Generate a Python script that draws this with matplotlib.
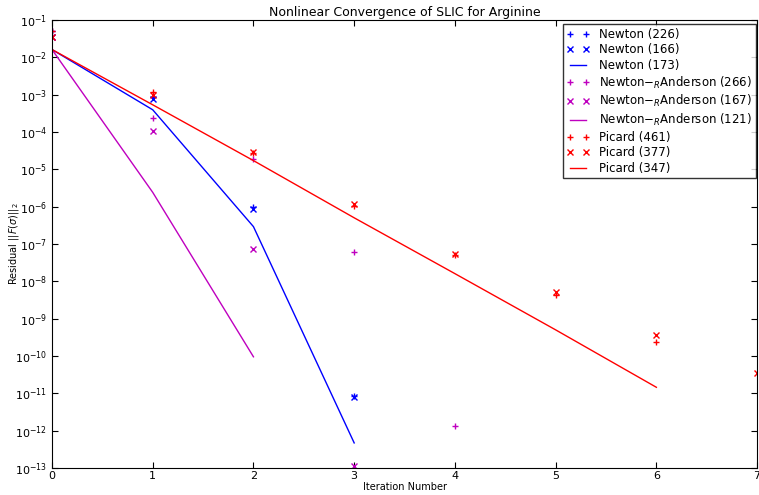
import matplotlib
matplotlib.use('Agg')
import matplotlib.pyplot as plt
from matplotlib.ticker import LogLocator, NullLocator, MultipleLocator

plt.rcParams['xtick.direction'] = 'in'
plt.rcParams['ytick.direction'] = 'in'
plt.rcParams['xtick.top'] = True
plt.rcParams['ytick.right'] = True
plt.rcParams['font.size'] = 8

# residual histories per method (iteration -> ||F||_2)
newton_plus = [5.0e-2, 8.5e-4, 1.0e-6, 8.5e-12]
newton_x = [3.5e-2, 7.6e-4, 8.8e-7, 8.0e-12]
newton_line = [1.6e-2, 3.9e-4, 2.9e-7, 4.7e-13]

nra_plus = [5.0e-2, 2.3e-4, 1.9e-5, 6.0e-8, 1.3e-12]
nra_x = [3.5e-2, 1.05e-4, 7.5e-8, 1.1e-13]
nra_line = [1.6e-2, 2.4e-6, 9.5e-11]

picard_plus = [5.0e-2, 1.2e-3, 2.7e-5, 1.05e-6, 5.2e-8, 4.4e-9, 2.3e-10]
picard_x = [3.5e-2, 1.0e-3, 2.9e-5, 1.15e-6, 5.5e-8, 5.3e-9, 3.6e-10, 3.4e-11]
picard_line = [1.6e-2, 5.3e-4, 1.7e-5, 5.0e-7, 1.6e-8, 5.0e-10, 1.45e-11]

labels = ['Newton (226)', 'Newton (166)', 'Newton (173)',
          r'Newton$-_R$Anderson (266)', r'Newton$-_R$Anderson (167)',
          r'Newton$-_R$Anderson (121)',
          'Picard (461)', 'Picard (377)', 'Picard (347)']

fig = plt.figure(figsize=(7.59, 4.95), dpi=100)
ax = fig.add_axes([0.0685, 0.0545, 0.929, 0.9055])

series = [
    (newton_plus, 'b', '+', '', labels[0]),
    (newton_x, 'b', 'x', '', labels[1]),
    (newton_line, 'b', '', '-', labels[2]),
    (nra_plus, 'm', '+', '', labels[3]),
    (nra_x, 'm', 'x', '', labels[4]),
    (nra_line, 'm', '', '-', labels[5]),
    (picard_plus, 'r', '+', '', labels[6]),
    (picard_x, 'r', 'x', '', labels[7]),
    (picard_line, 'r', '', '-', labels[8]),
]

for vals, c, m, ls, lab in series:
    ax.semilogy(range(len(vals)), vals, color=c, marker=m, linestyle=ls if ls else 'None',
                markersize=5, markeredgewidth=1, linewidth=1, label=lab)

ax.set_xlim(0, 7)
ax.set_ylim(1e-13, 1e-1)
ax.xaxis.set_major_locator(MultipleLocator(1))
ax.yaxis.set_major_locator(LogLocator(base=10, numticks=20))
ax.yaxis.set_minor_locator(NullLocator())
ax.tick_params(length=4, labelsize=8)
ax.tick_params(axis='x', pad=2)

ax.set_title('Nonlinear Convergence of SLIC for Arginine', fontsize=9, pad=3)
ax.set_xlabel('Iteration Number', fontsize=7, labelpad=1)
ax.set_ylabel(r'Residual $||F(\sigma)||_2$', fontsize=7, labelpad=-4)

leg = ax.legend(loc='upper right', bbox_to_anchor=(0.998, 0.99), fontsize=8.5,
                numpoints=2, fancybox=False, borderaxespad=0.0, handlelength=2.0,
                labelspacing=0.22, markerscale=0.8, borderpad=0.3)
leg.get_frame().set_edgecolor('black')

fig.savefig('out.png', dpi=100)
